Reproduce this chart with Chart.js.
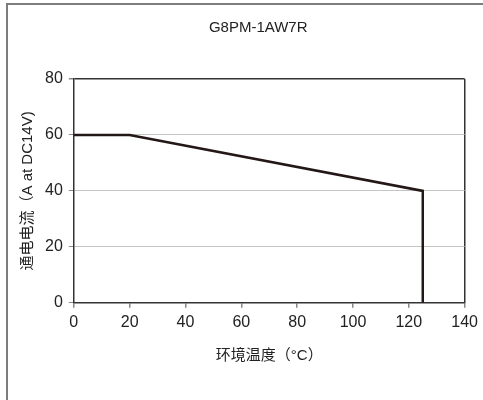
<!DOCTYPE html>
<html>
<head>
<meta charset="utf-8">
<script src="https://cdn.jsdelivr.net/npm/chart.js@4"></script>
<style>
  html, body { margin: 0; padding: 0; background: #fff; overflow: hidden; }
  #frame { position: absolute; left: 6px; top: 3px; width: 490px; height: 410px;
           border-left: 2px solid #7d7d7d; border-top: 2px solid #7d7d7d; }
  #wrap { position: absolute; left: 0; top: 0; width: 483px; height: 400px; }
</style>
</head>
<body>
<div id="frame"></div>
<div id="wrap"><canvas id="chart" width="483" height="400"></canvas></div>
<script>
const chartTitle = "G8PM-1AW7R";
const xTitle = "环境温度（°C）";
const yTitle = "通电电流（A at DC14V)";
const temps = [0, 20, 125, 125];
const current = [60, 60, 40, 0];
const xTicks = [0, 20, 40, 60, 80, 100, 120, 140];
const yTicks = [0, 20, 40, 60, 80];

const FONT = "'Liberation Sans', Arial, 'Noto Sans CJK SC', sans-serif";
const INK = "#231815";

// title sits a little left of the plot centre in the original
const titlePlugin = {
	id: "centerTitle",
	afterDraw(chart) {
		const { ctx, chartArea } = chart;
		ctx.save();
		ctx.font = "15px " + FONT;
		ctx.fillStyle = "#222";
		ctx.textAlign = "center";
		ctx.textBaseline = "middle";
		ctx.fillText(chartTitle, (chartArea.left + chartArea.right) / 2 - 11, 28);
		ctx.restore();
	},
};

const ctx = document.getElementById("chart").getContext("2d");
const chart = new Chart(ctx, {
	type: "scatter",
	data: {
		datasets: [
			{
				data: temps.map((t, i) => ({ x: t, y: current[i] })),
				showLine: true,
				borderColor: INK,
				borderWidth: 2.5,
				pointRadius: 0,
				tension: 0,
			},
		],
	},
	options: {
		responsive: false,
		animation: false,
		layout: { padding: { left: 15, right: 12, top: 79, bottom: 31 } },
		plugins: {
			legend: { display: false },
			tooltip: { enabled: false },
		},
		scales: {
			x: {
				type: "linear",
				min: 0,
				max: 140,
				afterBuildTicks: (s) => { s.ticks = xTicks.map((v) => ({ value: v })); },
				ticks: { color: "#222", font: { family: FONT, size: 16 }, padding: 5 },
				grid: {
					color: (c) => (c.tick && c.tick.value === 140 ? "#333" : "rgba(0,0,0,0)"),
					lineWidth: 1.5,
					tickColor: "#888",
					tickLength: 5,
				},
				border: { color: "#333", width: 1.5 },
				title: { display: true, text: xTitle, color: "#222", font: { family: FONT, size: 15 }, padding: { top: 10 } },
			},
			y: {
				min: 0,
				max: 80,
				afterBuildTicks: (s) => { s.ticks = yTicks.map((v) => ({ value: v })); },
				ticks: { color: "#222", font: { family: FONT, size: 16 }, padding: 6 },
				grid: {
					color: (c) => (c.tick && c.tick.value === 80 ? "#333" : "#c4c4c4"),
					lineWidth: (c) => (c.tick && c.tick.value === 80 ? 1.5 : 1),
					tickColor: "#888",
					tickLength: 5,
				},
				border: { color: "#333", width: 1.5 },
				title: { display: true, text: yTitle, color: "#222", font: { family: FONT, size: 15 }, padding: { bottom: 2 } },
			},
		},
	},
	plugins: [titlePlugin],
});
</script>
</body>
</html>
